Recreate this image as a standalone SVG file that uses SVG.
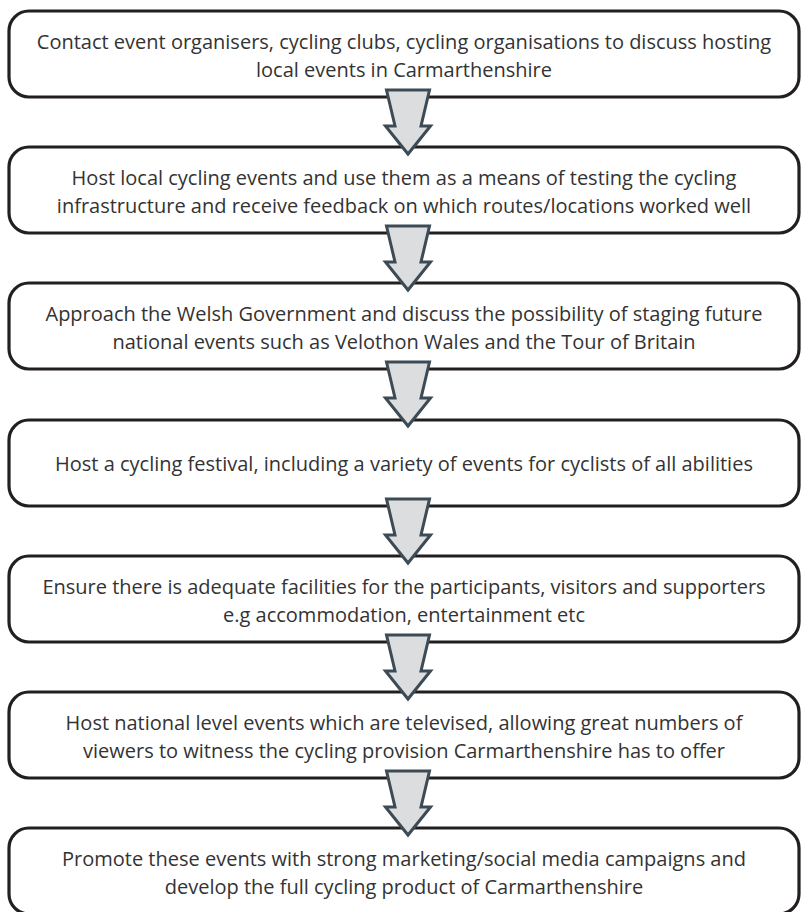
<svg xmlns="http://www.w3.org/2000/svg" width="802" height="912" viewBox="0 0 802 912">
  <style>
    .box { fill: #ffffff; stroke: #231f20; stroke-width: 3.2; }
    .lbl { font-family: "Open Sans", "Noto Sans", sans-serif; font-size: 20px; fill: #333333; text-anchor: middle; }
    .arr { fill: #dcdddf; stroke: #3c4b55; stroke-width: 3; stroke-linejoin: miter; }
  </style>
  <defs>
    <polygon id="down" points="386.5,0 429.5,0 421,36 430.5,36 408,64 385.5,36 395,36"/>
  </defs>
  <rect width="802" height="912" fill="#ffffff"/>

  <g id="node1">
    <rect class="box" x="9" y="11" width="790" height="86" rx="20" ry="20"/>
    <text class="lbl" x="404" y="49">Contact event organisers, cycling clubs, cycling organisations to discuss hosting</text>
    <text class="lbl" x="404" y="77">local events in Carmarthenshire</text>
  </g>
  <g id="node2">
    <rect class="box" x="9" y="147" width="790" height="86" rx="20" ry="20"/>
    <text class="lbl" x="404" y="185">Host local cycling events and use them as a means of testing the cycling</text>
    <text class="lbl" x="404" y="213">infrastructure and receive feedback on which routes/locations worked well</text>
  </g>
  <g id="node3">
    <rect class="box" x="9" y="283" width="790" height="86" rx="20" ry="20"/>
    <text class="lbl" x="404" y="321">Approach the Welsh Government and discuss the possibility of staging future</text>
    <text class="lbl" x="404" y="349">national events such as Velothon Wales and the Tour of Britain</text>
  </g>
  <g id="node4">
    <rect class="box" x="9" y="420" width="790" height="86" rx="20" ry="20"/>
    <text class="lbl" x="404" y="471">Host a cycling festival, including a variety of events for cyclists of all abilities</text>
  </g>
  <g id="node5">
    <rect class="box" x="9" y="556" width="790" height="86" rx="20" ry="20"/>
    <text class="lbl" x="404" y="594">Ensure there is adequate facilities for the participants, visitors and supporters</text>
    <text class="lbl" x="404" y="622">e.g accommodation, entertainment etc</text>
  </g>
  <g id="node6">
    <rect class="box" x="9" y="692" width="790" height="86" rx="20" ry="20"/>
    <text class="lbl" x="404" y="730">Host national level events which are televised, allowing great numbers of</text>
    <text class="lbl" x="404" y="758">viewers to witness the cycling provision Carmarthenshire has to offer</text>
  </g>
  <g id="node7">
    <rect class="box" x="9" y="828" width="790" height="86" rx="20" ry="20"/>
    <text class="lbl" x="404" y="866">Promote these events with strong marketing/social media campaigns and</text>
    <text class="lbl" x="404" y="894">develop the full cycling product of Carmarthenshire</text>
  </g>

  <g id="connectors">
    <use href="#down" class="arr" x="0" y="90"/>
    <use href="#down" class="arr" x="0" y="226"/>
    <use href="#down" class="arr" x="0" y="362"/>
    <use href="#down" class="arr" x="0" y="499"/>
    <use href="#down" class="arr" x="0" y="635"/>
    <use href="#down" class="arr" x="0" y="771"/>
  </g>
</svg>
